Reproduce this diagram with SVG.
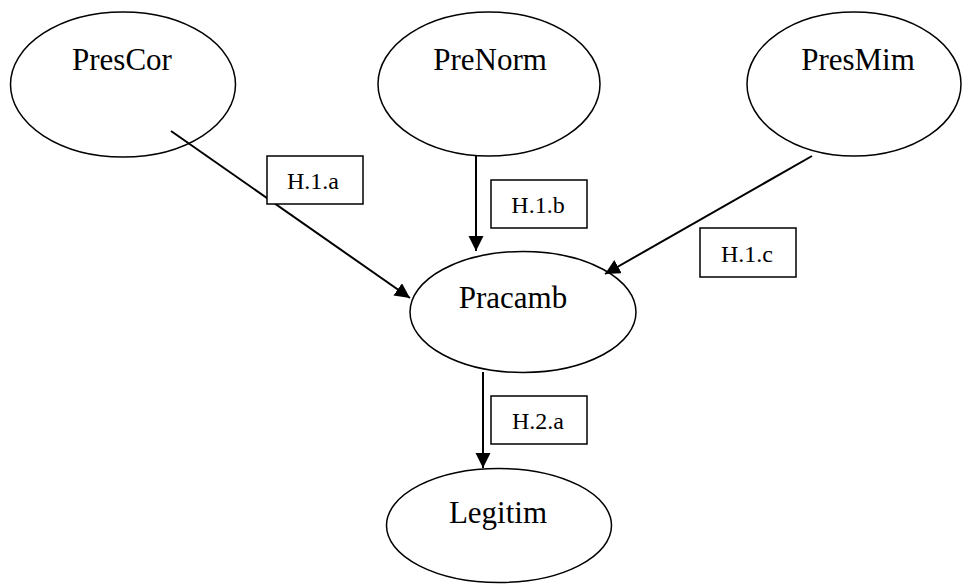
<svg xmlns="http://www.w3.org/2000/svg" width="962" height="585" viewBox="0 0 962 585">
<style>
  .node ellipse { fill: #fff; stroke: #000; stroke-width: 1.5; }
  .node text { font-family: "Liberation Serif", "Times New Roman", serif; font-size: 31px; fill: #000; text-anchor: middle; }
  .lbl rect { fill: #fff; stroke: #000; stroke-width: 1.5; }
  .lbl text { font-family: "Liberation Serif", "Times New Roman", serif; font-size: 24px; fill: #000; text-anchor: middle; }
  .edge { stroke: #000; stroke-width: 2; fill: none; marker-end: url(#arr); }
</style>
<defs>
  <marker id="arr" markerUnits="userSpaceOnUse" markerWidth="16" markerHeight="16" refX="15" refY="7.5" orient="auto">
    <path d="M0,0 L15,7.5 L0,15 z" fill="#000"/>
  </marker>
</defs>
<rect width="962" height="585" fill="#fff"/>
<g id="PresCor" class="node">
  <ellipse cx="123" cy="84.5" rx="112.5" ry="72.5"/>
  <text x="122" y="70">PresCor</text>
</g>
<g id="PreNorm" class="node">
  <ellipse cx="489" cy="84" rx="111" ry="72"/>
  <text x="490" y="70">PreNorm</text>
</g>
<g id="PresMim" class="node">
  <ellipse cx="854" cy="84" rx="107" ry="72"/>
  <text x="858" y="70">PresMim</text>
</g>
<g id="Pracamb" class="node">
  <ellipse cx="523" cy="312" rx="113" ry="60.5"/>
  <text x="513" y="308">Pracamb</text>
</g>
<g id="Legitim" class="node">
  <ellipse cx="499" cy="525.5" rx="112.5" ry="57"/>
  <text x="498" y="523">Legitim</text>
</g>
<g id="connectors">
  <line class="edge" x1="171" y1="131" x2="410" y2="298"/>
  <line class="edge" x1="476" y1="156" x2="476" y2="251"/>
  <line class="edge" x1="812" y1="156" x2="605" y2="274"/>
  <line class="edge" x1="483" y1="372" x2="483" y2="468"/>
</g>
<g id="label-H1a" class="lbl">
  <rect x="267" y="156" width="96" height="48"/>
  <text x="313" y="189">H.1.a</text>
</g>
<g id="label-H1b" class="lbl">
  <rect x="491" y="180" width="96" height="48"/>
  <text x="538" y="213">H.1.b</text>
</g>
<g id="label-H1c" class="lbl">
  <rect x="700" y="228" width="96" height="49"/>
  <text x="747" y="262">H.1.c</text>
</g>
<g id="label-H2a" class="lbl">
  <rect x="491" y="396" width="96" height="48"/>
  <text x="538" y="429">H.2.a</text>
</g>
</svg>
